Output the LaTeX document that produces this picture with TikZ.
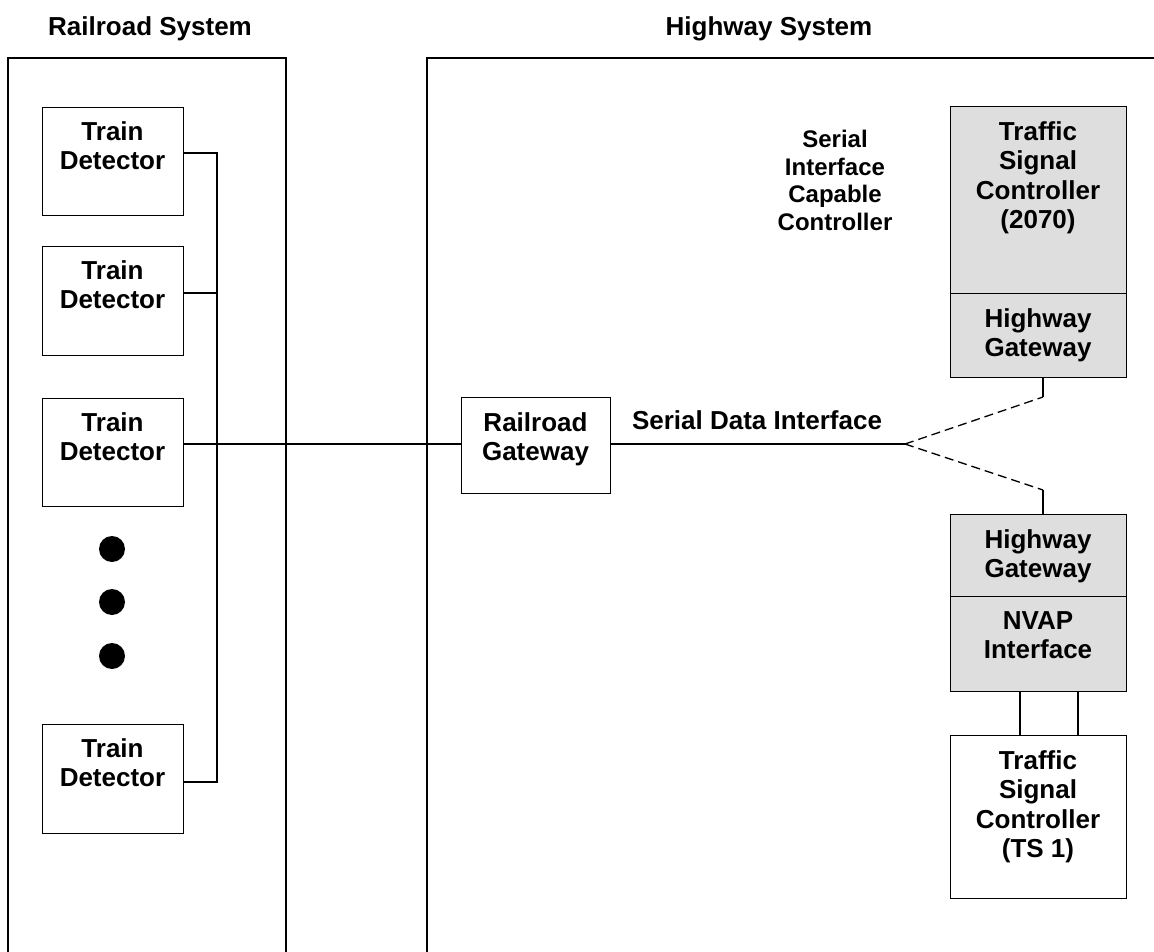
\documentclass[tikz,border=0pt]{standalone}
\usepackage{fontspec}
\setmainfont{Liberation Sans}
\begin{document}
\begin{tikzpicture}[x=1pt,y=-1pt,
  line/.style={line width=1.3pt},
  box/.style={draw,line width=1.4pt,inner sep=0pt},
  graybox/.style={box,fill=black!13},
  lbl/.style={anchor=north,inner sep=0pt,align=center,font=\bfseries\fontsize{26}{29.5}\selectfont},
  slbl/.style={anchor=north,inner sep=0pt,align=center,font=\bfseries\fontsize{24}{27.5}\selectfont},
  dot/.style={fill=black,circle,inner sep=0pt,minimum size=26pt},
  dashedline/.style={line width=1.3pt,dash pattern=on 9pt off 5pt}]
\useasboundingbox (0,0) rectangle (1154,952);
% titles
\node[lbl] (t1) at (150,16) {Railroad System};
\node[lbl] (t2) at (769,16) {Highway System};
% panels
\draw[line] (8,952) -- (8,58) -- (286,58) -- (286,952);
\draw[line] (427,952) -- (427,58) -- (1154,58);
% train detectors
\foreach \n/\ya/\yb in {1/107/215,2/246/355,3/398/506,4/724/833}{
  \node[box,minimum width=141pt,minimum height={\yb-\ya},anchor=north west] (td\n) at (42,\ya) {};
  \node[lbl] (tdt\n) at (112.5,\ya+14) {Train\\Detector};
}
% dots
\node[dot] (d1) at (112,549) {};
\node[dot] (d2) at (112,602) {};
\node[dot] (d3) at (112,656) {};
% bus
\coordinate (b1) at (217,153);
\coordinate (b2) at (217,293);
\coordinate (b3) at (217,444);
\coordinate (b4) at (217,782);
\draw[line] (b1 -| td1.east) -- (b1) -- (b4) -- (b4 -| td4.east);
\draw[line] (b2 -| td2.east) -- (b2);
% railroad gateway
\node[box,minimum width=149pt,minimum height=96pt,anchor=north west] (rg) at (461,397) {};
\node[lbl] (rgt) at (535.5,412) {Railroad\\Gateway};
\draw[line] (b3 -| td3.east) -- (b3 -| rg.west);
\coordinate (v) at (905,444);
\draw[line] (b3 -| rg.east) -- (v);
\node[lbl,anchor=base] (sdi) at (757,429) {Serial Data Interface};
% serial interface capable controller label
\node[slbl] (sic) at (835,130) {Serial\\Interface\\Capable\\Controller};
% upper gray stack
\node[graybox,minimum width=176pt,minimum height=187pt,anchor=north west] (tsc) at (950,106) {};
\node[graybox,minimum width=176pt,minimum height=84pt,anchor=north west] (hg1) at (950,293) {};
\node[lbl] (tsct) at (1038,121) {Traffic\\Signal\\Controller\\(2070)};
\node[lbl] (hg1t) at (1038,308) {Highway\\Gateway};
% lower gray stack
\node[graybox,minimum width=176pt,minimum height=82pt,anchor=north west] (hg2) at (950,514) {};
\node[graybox,minimum width=176pt,minimum height=95pt,anchor=north west] (nv) at (950,596) {};
\node[lbl] (hg2t) at (1038,529) {Highway\\Gateway};
\node[lbl] (nvt) at (1038,611) {NVAP\\Interface};
% TS1
\node[box,minimum width=176pt,minimum height=163pt,anchor=north west] (ts1) at (950,735) {};
\node[lbl] (ts1t) at (1038,750) {Traffic\\Signal\\Controller\\(TS 1)};
% dashed connections
\coordinate (u) at (1043,397);
\coordinate (l) at (1043,490);
\draw[dashedline] (v) -- (u);
\draw[dashedline] (v) -- (l);
\draw[line] (u) -- (u |- hg1.south);
\draw[line] (l) -- (l |- hg2.north);
% NVAP to TS1
\draw[line] (nv.south -| 1020,0) -- (ts1.north -| 1020,0);
\draw[line] (nv.south -| 1078,0) -- (ts1.north -| 1078,0);
\end{tikzpicture}
\end{document}
